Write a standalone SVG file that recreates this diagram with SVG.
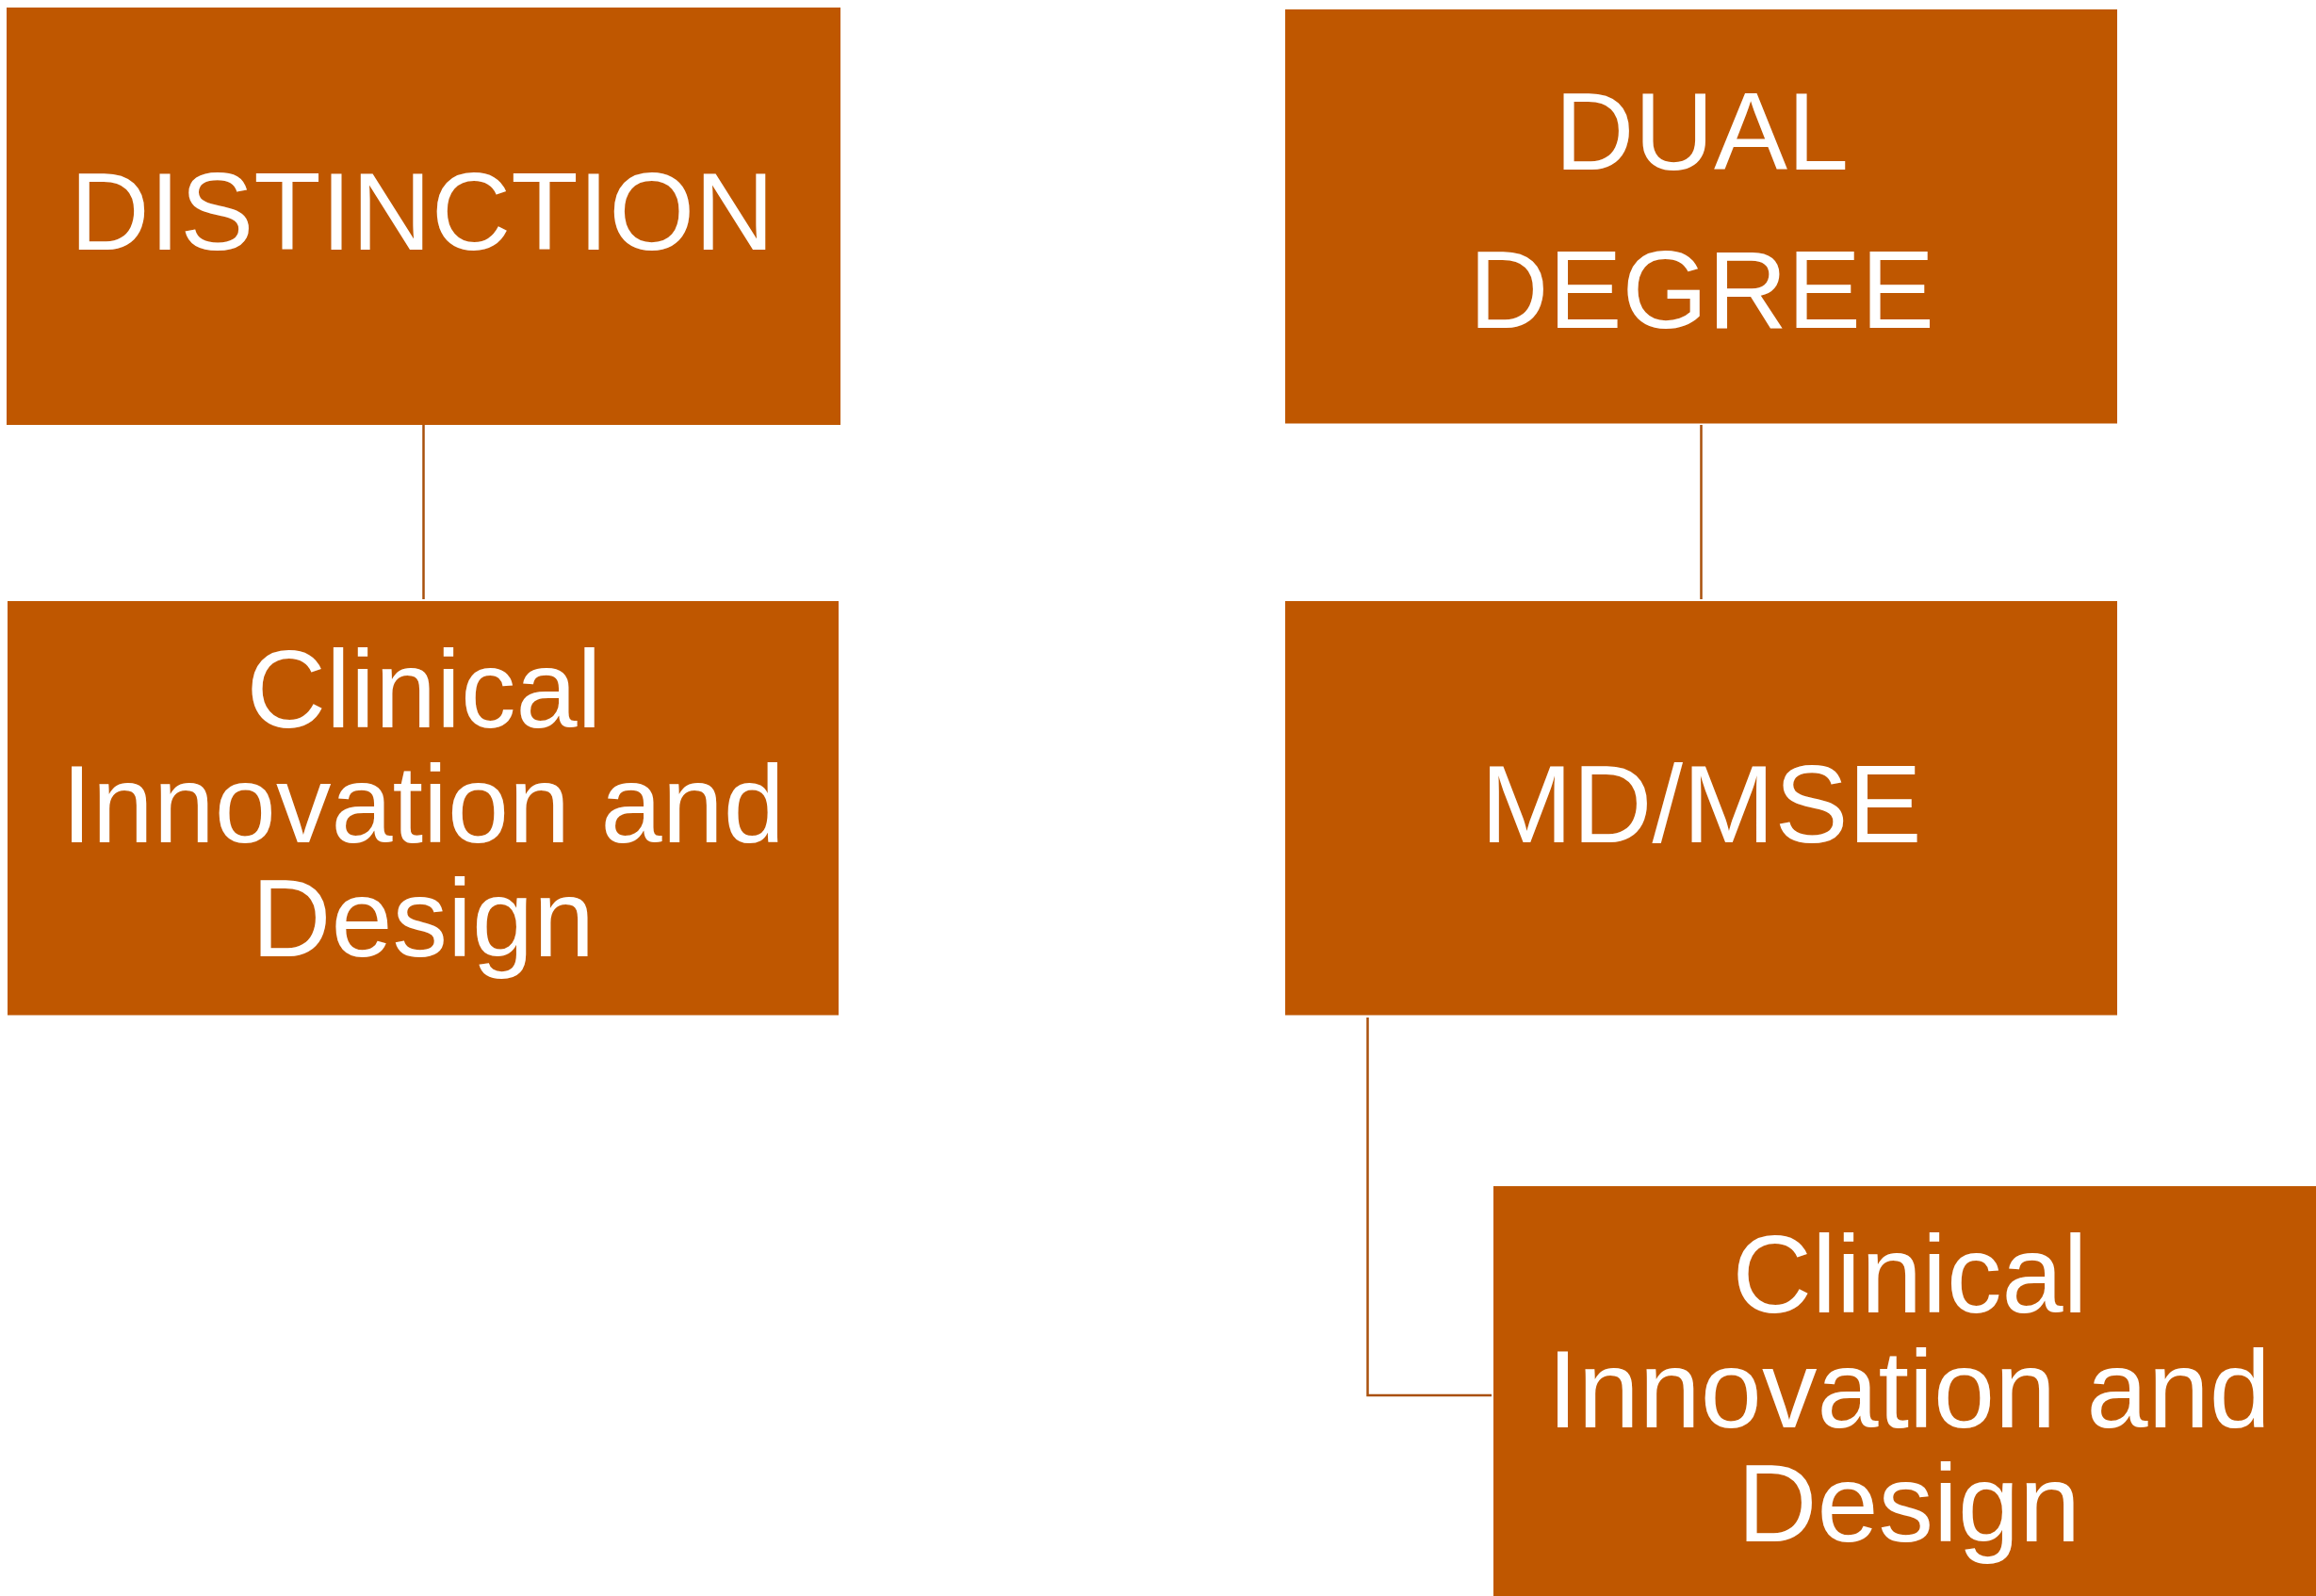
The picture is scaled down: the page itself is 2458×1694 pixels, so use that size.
<svg xmlns="http://www.w3.org/2000/svg" width="2458" height="1694" viewBox="0 0 2458 1694">
<style>
.box{fill:#BF5700;}
.t{font-family:"Liberation Sans",Arial,sans-serif;font-size:117px;fill:#FFFFFF;text-anchor:middle;}
.c{stroke:#A9500C;stroke-width:2.5;fill:none;}
</style>
<rect width="2458" height="1694" fill="#FFFFFF"/>
<g id="connectors">
<line class="c" x1="449.5" y1="451" x2="449.5" y2="636"/>
<line class="c" x1="1805.5" y1="451" x2="1805.5" y2="636"/>
<polyline class="c" points="1451.5,1080 1451.5,1481 1583,1481"/>
</g>
<g id="distinction">
<rect class="box" x="7" y="8" width="885" height="443"/>
<text class="t" x="448" y="265">DISTINCTION</text>
</g>
<g id="dual-degree">
<rect class="box" x="1364" y="10" width="883" height="439.5"/>
<text class="t" x="1806" y="180">DUAL</text>
<text class="t" x="1806" y="348">DEGREE</text>
</g>
<g id="clinical-left">
<rect class="box" x="8" y="638" width="882" height="439.5"/>
<text class="t" x="450" y="772">Clinical</text>
<text class="t" x="449" y="893.5">Innovation and</text>
<text class="t" x="449" y="1015">Design</text>
</g>
<g id="md-mse">
<rect class="box" x="1364" y="638" width="883" height="439.5"/>
<text class="t" x="1805.5" y="893.5">MD/MSE</text>
</g>
<g id="clinical-right">
<rect class="box" x="1585" y="1259" width="882" height="440"/>
<text class="t" x="2027" y="1393">Clinical</text>
<text class="t" x="2026" y="1514.5">Innovation and</text>
<text class="t" x="2026" y="1636">Design</text>
</g>
</svg>
